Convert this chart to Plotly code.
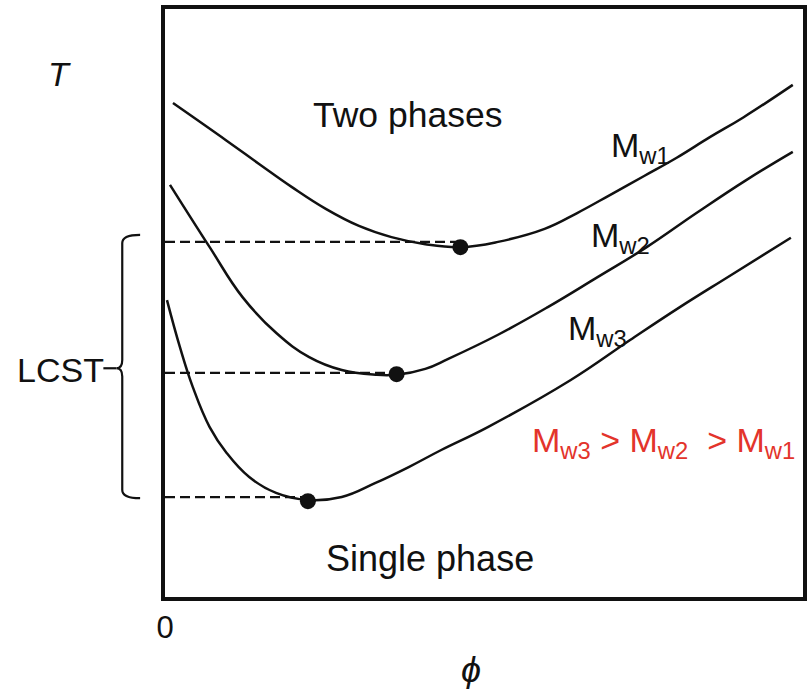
import plotly.graph_objects as go

# ---- data (phi = volume fraction, T = temperature, arbitrary units 0..1) ----
phi_mw1 = [0.0125, 0.0966, 0.148, 0.199, 0.252, 0.304, 0.355, 0.408, 0.464, 0.522,
           0.595, 0.646, 0.698, 0.751, 0.802, 0.854, 0.907, 0.984]
T_mw1 = [0.840, 0.776, 0.736, 0.697, 0.660, 0.631, 0.612, 0.600, 0.595, 0.604,
         0.626, 0.653, 0.684, 0.716, 0.747, 0.782, 0.816, 0.871]

phi_mw2 = [0.0078, 0.070, 0.1215, 0.1745, 0.226, 0.277, 0.330, 0.363, 0.408, 0.444,
           0.522, 0.600, 0.678, 0.755, 0.833, 0.911, 0.984]
T_mw2 = [0.701, 0.595, 0.510, 0.449, 0.408, 0.386, 0.378, 0.378, 0.388, 0.405,
         0.446, 0.493, 0.544, 0.595, 0.653, 0.709, 0.757]

phi_mw3 = [0.0031, 0.0234, 0.0436, 0.070, 0.0966, 0.132, 0.174, 0.224, 0.277, 0.330,
           0.382, 0.433, 0.506, 0.636, 0.729, 0.807, 0.885, 0.981]
T_mw3 = [0.505, 0.425, 0.357, 0.289, 0.245, 0.204, 0.177, 0.165, 0.170, 0.194,
         0.221, 0.250, 0.289, 0.369, 0.437, 0.493, 0.546, 0.611]

# critical points (minima) and LCST levels
crit_phi = [0.463, 0.363, 0.224]
crit_T = [0.595, 0.379, 0.163]
lcst_T = [0.604, 0.381, 0.170]

x_ticks = [0, 1]
x_ticklabels = ["0", "1"]

FONT = "Liberation Sans, Arial, Helvetica, sans-serif"
INK = "#111111"
RED = "#e3342b"

fig = go.Figure()

for px_, py_ in [(phi_mw1, T_mw1), (phi_mw2, T_mw2), (phi_mw3, T_mw3)]:
    fig.add_trace(go.Scatter(x=px_, y=py_, mode="lines",
                             line=dict(color=INK, width=2.5, shape="spline", smoothing=1.2),
                             hoverinfo="skip", showlegend=False))

for cx, lv in zip(crit_phi, lcst_T):
    fig.add_trace(go.Scatter(x=[0, cx], y=[lv, lv], mode="lines",
                             line=dict(color=INK, width=2.2, dash="10px,5px"),
                             hoverinfo="skip", showlegend=False))

fig.add_trace(go.Scatter(x=crit_phi, y=crit_T, mode="markers",
                         marker=dict(color=INK, size=16),
                         hoverinfo="skip", showlegend=False))

# LCST brace (paper coords; y paper equals T since range is [0,1])
top, bot = 0.616, 0.168
mid = 0.389
xv, xh, xt = -0.067, -0.039, -0.076
r = 0.014
brace = (f"M {xh},{top} Q {xv},{top} {xv},{top - r} "
         f"L {xv},{mid + r} Q {xv},{mid} {xt},{mid} "
         f"Q {xv},{mid} {xv},{mid - r} "
         f"L {xv},{bot + r} Q {xv},{bot} {xh},{bot}")
shapes = [
    dict(type="path", xref="paper", yref="paper", path=brace,
         line=dict(color=INK, width=2.2)),
    dict(type="line", xref="paper", yref="paper", x0=-0.0966, x1=xt, y0=mid, y1=mid,
         line=dict(color=INK, width=2.2)),
]

def ann(x, y, text, xref="x", yref="y", xanchor="center", yanchor="middle",
        size=34, color=INK, italic=False):
    return dict(x=x, y=y, xref=xref, yref=yref, text=text, showarrow=False,
                xanchor=xanchor, yanchor=yanchor,
                font=dict(family=FONT, size=size, color=color,
                          style="italic" if italic else "normal"))

annotations = [
    ann(0.380, 0.820, "Two phases", size=35.5),
    ann(0.416, 0.065, "Single phase", size=36),
    ann(0.696, 0.764, "M<sub>w1</sub>", xanchor="left"),
    ann(0.665, 0.612, "M<sub>w2</sub>", xanchor="left"),
    ann(0.628, 0.454, "M<sub>w3</sub>", xanchor="left"),
    ann(0.572, 0.262, "M<sub>w3</sub> &gt; M<sub>w2</sub> \u00a0&gt; M<sub>w1</sub>",
        xanchor="left", color=RED),
    ann(-0.093, 0.386, "LCST", xref="paper", yref="paper", xanchor="right"),
    ann(-0.165, 0.889, "T", xref="paper", yref="paper", italic=True),
    ann(0.479, -0.162, "\u03d5", xref="paper", yref="paper", yanchor="bottom",
        size=36, italic=True),
]

fig.update_layout(
    width=808, height=693,
    margin=dict(l=165, r=1, t=9, b=96),
    paper_bgcolor="white", plot_bgcolor="white",
    showlegend=False,
    shapes=shapes, annotations=annotations,
    xaxis=dict(range=[0, 1], tickvals=x_ticks, ticktext=x_ticklabels, ticks="",
               showgrid=False, zeroline=False, showline=True, mirror=True,
               linecolor=INK, linewidth=3.5, ticklabelstandoff=0,
               tickfont=dict(family=FONT, size=31, color=INK)),
    yaxis=dict(range=[0, 1], showticklabels=False, ticks="",
               showgrid=False, zeroline=False, showline=True, mirror=True,
               linecolor=INK, linewidth=3.5),
)

fig.write_html("out.html")
